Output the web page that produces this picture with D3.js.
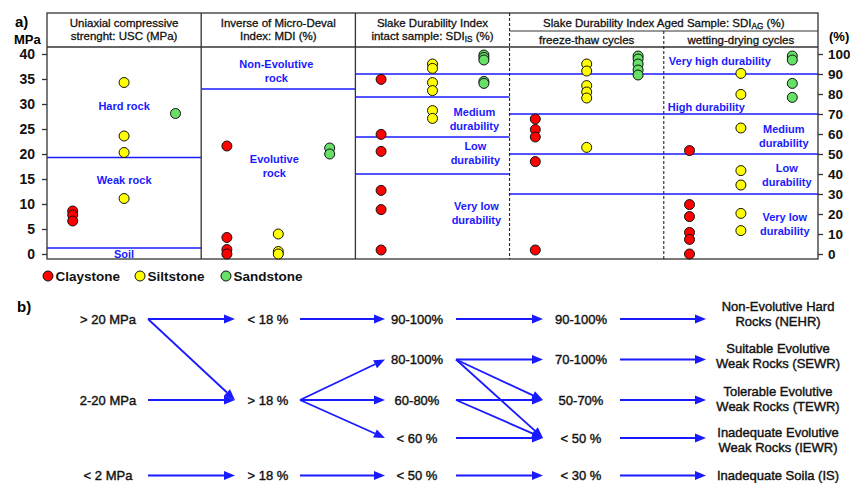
<!DOCTYPE html>
<html>
<head>
<meta charset="utf-8">
<script src="https://cdn.jsdelivr.net/npm/d3@7"></script>
<style>
body { margin: 0; background: #fff; }
svg { display: block; font-family: 'Liberation Sans', Arial, sans-serif; }
</style>
</head>
<body>
<div id="chart"></div>
<script>
// rock types and colours
const rockTypes = ['Claystone', 'Siltstone', 'Sandstone']
const rockColors = ['#ff0000', '#ffff00', '#66e066']

// tick labels
const mpaTicks = [0, 5, 10, 15, 20, 25, 30, 35, 40]
const pctTicks = [0, 10, 20, 30, 40, 50, 60, 70, 80, 90, 100]

// panel headers
const panelTitles = [
    ['Uniaxial compressive', 'strenght: USC (MPa)'],
    ['Inverse of Micro-Deval', 'Index: MDI (%)'],
    ['Slake Durability Index', 'intact sample: SDI_{IS} (%)'],
    ['freeze-thaw cycles'],
    ['wetting-drying cycles']
]
const agedTitle = 'Slake Durability Index Aged Sample: SDI_{AG} (%)'

// values per panel, ordered Claystone / Siltstone / Sandstone
const uscValues = [[8.6, 7.8, 6.6], [34.3, 23.6, 20.3, 11.1], [28.1]]
const mdiValues = [[21.6, 3.3, 0.9, 0], [4.0, 0.5, 0], [21.2, 20.0]]
const sdiIsValues = [[87.3, 59.8, 51.3, 31.8, 22.2, 2.0], [95, 92.8, 85.7, 81.7, 71.7, 67.8], [99.5, 98.3, 97, 86.3, 85.3]]
const sdiFtValues = [[67.5, 62.2, 58.5, 46.2, 2.0], [95, 91.5, 84.2, 81, 78, 53.3], [99, 97.5, 95, 92, 89.5]]
const sdiWdValues = [[51.7, 24.7, 18.7, 10.8, 7.3, 0], [90.3, 79.8, 63, 41.7, 34.5, 20.3, 11.7], [99, 97, 85.3, 78.3]]

// class limits (blue lines)
const uscLimits = [19.3, 1.2]
const mdiLimits = [33]
const sdiIsLimits = [78.5, 58.5, 40]
const sdiHighLimit = [90]
const sdiAgLimits = [70, 50, 30]

// class names
const uscClasses = [['Hard rock'], ['Weak rock'], ['Soil']]
const mdiClasses = [['Non-Evolutive', 'rock'], ['Evolutive', 'rock']]
const sdiIsClasses = [['Medium', 'durability'], ['Low', 'durability'], ['Very low', 'durability']]
const sdiAgClasses = [['Very high durability'], ['High durability'], ['Medium', 'durability'], ['Low', 'durability'], ['Very low', 'durability']]

// flow diagram (b)
const flowColumns = [
    ['> 20 MPa', null, '2-20 MPa', null, '< 2 MPa'],
    ['< 18 %', null, '> 18 %', null, '> 18 %'],
    ['90-100%', '80-100%', '60-80%', '< 60 %', '< 50 %'],
    ['90-100%', '70-100%', '50-70%', '< 50 %', '< 30 %']
]
const flowClasses = [
    ['Non-Evolutive Hard', 'Rocks (NEHR)'],
    ['Suitable Evolutive', 'Weak Rocks (SEWR)'],
    ['Tolerable Evolutive', 'Weak Rocks (TEWR)'],
    ['Inadequate Evolutive', 'Weak Rocks (IEWR)'],
    ['Inadequate Soila (IS)']
]
// [from column, from row, to row]; column 3 points to the class names
const flowLinks = [
    [0, 0, 0], [0, 0, 2], [0, 2, 2], [0, 4, 4],
    [1, 0, 0], [1, 2, 1], [1, 2, 2], [1, 2, 3], [1, 4, 4],
    [2, 0, 0], [2, 1, 1], [2, 1, 2], [2, 1, 3], [2, 2, 2], [2, 2, 3], [2, 3, 3], [2, 4, 4],
    [3, 0, 0], [3, 1, 1], [3, 2, 2], [3, 3, 3], [3, 4, 4]
]

const blue = '#1a1aff'
const frameColor = '#333'
const plotLeft = 47, plotRight = 818, plotTop = 13, headMid = 31, headBottom = 47, plotBottom = 259

function richText(sel, str) {
    let parts = str.split(/(_\{[^}]*\})/).filter(p => p.length)
    let sub = false
    parts.forEach(p => {
        if (p.startsWith('_{')) {
            sel.append('tspan').attr('font-size', '0.72em').attr('dy', 3).text(p.slice(2, -1))
            sub = true
        } else {
            let t = sel.append('tspan').text(p)
            if (sub) { t.attr('dy', -3); sub = false }
        }
    })
}

function draw() {
    let svg = d3.select('#chart')
        .append('svg')
        .attr('width', 850)
        .attr('height', 483)

    let yLeft = d3.scaleLinear().domain([0, 40]).range([254, 54])
    let yRight = d3.scaleLinear().domain([0, 100]).range([254, 54])
    let xPanel = d3.scaleBand().domain(d3.range(5)).range([plotLeft, plotRight])
    let xRock = d3.scalePoint().domain(rockTypes).range([0, xPanel.bandwidth()]).padding(0.5)
    let pcx = p => xPanel(p) + xPanel.bandwidth() / 2

    // blue class lines
    let limitLines = [
        ...uscLimits.map(v => ({ y: yLeft(v), from: 0, to: 0 })),
        ...mdiLimits.map(v => ({ y: yLeft(v), from: 1, to: 1 })),
        ...sdiIsLimits.map(v => ({ y: yRight(v), from: 2, to: 2 })),
        ...sdiHighLimit.map(v => ({ y: yRight(v), from: 2, to: 4 })),
        ...sdiAgLimits.map(v => ({ y: yRight(v), from: 3, to: 4 }))
    ]
    svg.append('g').selectAll('line')
        .data(limitLines)
        .enter()
        .append('line')
        .attr('x1', d => xPanel(d.from))
        .attr('x2', d => xPanel(d.to) + xPanel.bandwidth())
        .attr('y1', d => d.y)
        .attr('y2', d => d.y)
        .attr('stroke', blue)
        .attr('stroke-width', 1.5)

    // frame
    let frame = svg.append('g').attr('stroke', frameColor).attr('stroke-width', 1.3)
    frame.append('rect')
        .attr('x', plotLeft).attr('y', plotTop)
        .attr('width', plotRight - plotLeft).attr('height', plotBottom - plotTop)
        .attr('fill', 'none')
    frame.append('line').attr('x1', plotLeft).attr('x2', plotRight).attr('y1', headBottom).attr('y2', headBottom)
    frame.append('line').attr('x1', xPanel(3)).attr('x2', plotRight).attr('y1', headMid).attr('y2', headMid)
        .attr('stroke-width', 1)
    ;[1, 2].forEach(p => {
        frame.append('line').attr('x1', xPanel(p)).attr('x2', xPanel(p)).attr('y1', plotTop).attr('y2', plotBottom)
    })
    frame.append('line').attr('x1', xPanel(3)).attr('x2', xPanel(3)).attr('y1', plotTop).attr('y2', plotBottom)
        .attr('stroke', '#111').attr('stroke-width', 1).attr('stroke-dasharray', '3,2')
    frame.append('line').attr('x1', xPanel(4)).attr('x2', xPanel(4)).attr('y1', headMid).attr('y2', plotBottom)
        .attr('stroke', '#111').attr('stroke-width', 1).attr('stroke-dasharray', '3,2')

    // headers
    let heads = svg.append('g').attr('font-size', '11.5px').attr('fill', '#111')
        .attr('stroke', '#111').attr('stroke-width', 0.3)
        .attr('text-anchor', 'middle').attr('dominant-baseline', 'central')
    panelTitles.forEach((lines, p) => {
        if (lines.length === 2) {
            lines.forEach((l, i) => {
                richText(heads.append('text').attr('x', pcx(p)).attr('y', 23 + i * 13), l)
            })
        } else {
            heads.append('text').attr('x', pcx(p)).attr('y', 39.5).text(lines[0])
        }
    })
    richText(heads.append('text').attr('x', xPanel(4)).attr('y', 23), agedTitle)

    // axes
    let axL = svg.append('g')
        .attr('transform', `translate(${plotLeft},0)`)
        .call(d3.axisLeft(yLeft).tickValues(mpaTicks).tickSize(5).tickPadding(7))
    let axR = svg.append('g')
        .attr('transform', `translate(${plotRight},0)`)
        .call(d3.axisRight(yRight).tickValues(pctTicks).tickSize(5).tickPadding(5))
    ;[axL, axR].forEach(ax => {
        ax.select('.domain').remove()
        ax.selectAll('line').attr('stroke', frameColor).attr('stroke-width', 1.3)
        ax.selectAll('text').attr('font-size', '14px').attr('font-weight', 'bold')
            .attr('fill', '#111').attr('font-family', "'Liberation Sans', Arial, sans-serif")
    })
    axR.selectAll('text').attr('font-size', '13.5px')
    svg.append('text').attr('x', 15).attr('y', 21).attr('dominant-baseline', 'central')
        .attr('font-size', '15px').attr('font-weight', 'bold').text('a)')
    svg.append('text').attr('x', 14).attr('y', 39).attr('dominant-baseline', 'central')
        .attr('font-size', '13px').attr('font-weight', 'bold').text('MPa')
    svg.append('text').attr('x', 829).attr('y', 36).attr('dominant-baseline', 'central')
        .attr('font-size', '13px').attr('font-weight', 'bold').text('(%)')

    // class labels
    let classLabels = [
        { lines: uscClasses[0], x: pcx(0), y: yLeft(29.7) },
        { lines: uscClasses[1], x: pcx(0), y: yLeft(14.8) },
        { lines: uscClasses[2], x: pcx(0), y: yLeft(0) },
        { lines: mdiClasses[0], x: pcx(1) - 2, y: yLeft(36.7) },
        { lines: mdiClasses[1], x: pcx(1) - 4, y: yLeft(17.6) },
        { lines: sdiIsClasses[0], x: xPanel(2) + 119, y: yRight(67.5) },
        { lines: sdiIsClasses[1], x: xPanel(2) + 120, y: yRight(50.5) },
        { lines: sdiIsClasses[2], x: xPanel(2) + 121, y: yRight(20.5) },
        { lines: sdiAgClasses[0], x: xPanel(4) + 5, y: yRight(96.7), anchor: 'start' },
        { lines: sdiAgClasses[1], x: xPanel(4) + 4, y: yRight(73.7), anchor: 'start' },
        { lines: sdiAgClasses[2], x: xPanel(4) + 120, y: yRight(59) },
        { lines: sdiAgClasses[3], x: xPanel(4) + 123, y: yRight(39.7) },
        { lines: sdiAgClasses[4], x: xPanel(4) + 121, y: yRight(15) }
    ]
    let lab = svg.append('g').attr('fill', blue).attr('font-size', '11px').attr('font-weight', 'bold')
        .attr('dominant-baseline', 'central')
    classLabels.forEach(c => {
        c.lines.forEach((l, i) => {
            lab.append('text')
                .attr('x', c.x)
                .attr('y', c.y + (i - (c.lines.length - 1) / 2) * 14)
                .attr('text-anchor', c.anchor || 'middle')
                .text(l)
        })
    })

    // points
    let panelValues = [uscValues, mdiValues, sdiIsValues, sdiFtValues, sdiWdValues]
    let panelScale = [yLeft, yLeft, yRight, yRight, yRight]
    let points = []
    panelValues.forEach((groups, p) => {
        groups.forEach((vals, r) => {
            vals.forEach(v => points.push({ p: p, r: r, v: v }))
        })
    })
    svg.append('g').selectAll('circle')
        .data(points)
        .enter()
        .append('circle')
        .attr('cx', d => xPanel(d.p) + xRock(rockTypes[d.r]))
        .attr('cy', d => panelScale[d.p](d.v))
        .attr('r', 5)
        .attr('fill', d => rockColors[d.r])
        .attr('stroke', '#111')
        .attr('stroke-width', 1)

    // legend
    let legX = d3.scaleOrdinal().domain(rockTypes).range([48, 140, 226])
    let leg = svg.append('g').selectAll('g')
        .data(rockTypes)
        .enter()
        .append('g')
        .attr('transform', d => `translate(${legX(d)},276)`)
    leg.append('circle').attr('r', 5)
        .attr('fill', (d, i) => rockColors[i]).attr('stroke', '#111')
    leg.append('text').attr('x', 7.5).attr('dominant-baseline', 'central')
        .attr('font-size', '13.5px').attr('font-weight', 'bold').attr('fill', '#111')
        .text(d => d)

    // ---- b) flow diagram ----
    svg.append('text').attr('x', 17).attr('y', 306).attr('dominant-baseline', 'central')
        .attr('font-size', '15px').attr('font-weight', 'bold').text('b)')

    let colX = d3.scaleOrdinal().domain(d3.range(5)).range([108, 268, 417, 581, 778])
    let rowY = d3.scaleOrdinal().domain(d3.range(5)).range([319, 359.5, 400, 438, 475.5])
    let outX = [148, 300, 456, 620]
    let inX = [235, 385, 543, 706]

    let flow = svg.append('g').attr('font-size', '13px').attr('fill', '#111')
        .attr('stroke', '#111').attr('stroke-width', 0.4)
        .attr('text-anchor', 'middle').attr('dominant-baseline', 'central')
    flowColumns.forEach((col, c) => {
        col.forEach((t, r) => {
            if (t) flow.append('text').attr('x', colX(c)).attr('y', rowY(r)).text(t)
        })
    })
    let classShift = [-5, -4, -1, 2, 0]
    flowClasses.forEach((lines, r) => {
        lines.forEach((l, i) => {
            flow.append('text')
                .attr('x', colX(4))
                .attr('y', rowY(r) + classShift[r] + (i - (lines.length - 1) / 2) * 15)
                .text(l)
        })
    })

    // arrows
    let arrows = flowLinks.map(([c, r0, r1]) => ({ x1: outX[c], y1: rowY(r0), x2: inX[c], y2: rowY(r1) }))
    let ag = svg.append('g')
    let headLen = 11, headHalf = 4.5
    arrows.forEach(a => {
        let ang = Math.atan2(a.y2 - a.y1, a.x2 - a.x1)
        let bx = a.x2 - headLen * Math.cos(ang), by = a.y2 - headLen * Math.sin(ang)
        ag.append('line')
            .attr('x1', a.x1).attr('y1', a.y1).attr('x2', bx).attr('y2', by)
            .attr('stroke', blue).attr('stroke-width', 1.8)
        let px = -Math.sin(ang) * headHalf, py = Math.cos(ang) * headHalf
        ag.append('path')
            .attr('d', `M${a.x2},${a.y2}L${bx + px},${by + py}L${bx - px},${by - py}Z`)
            .attr('fill', blue)
    })
}
draw()
</script>
</body>
</html>
